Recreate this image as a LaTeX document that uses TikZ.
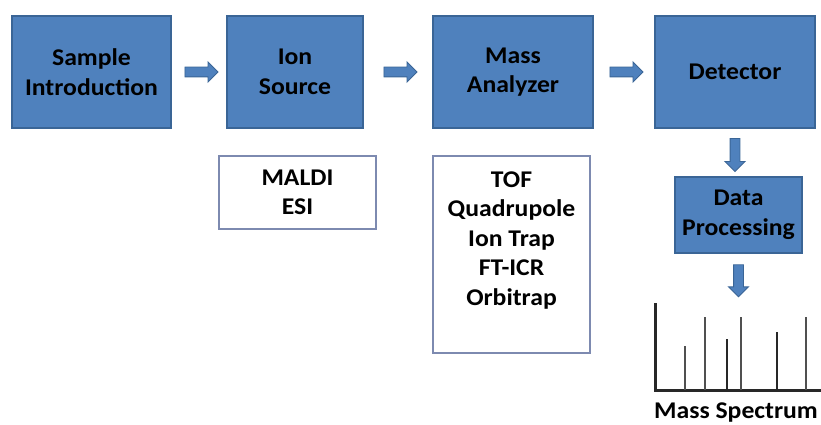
\documentclass[tikz,border=0pt]{standalone}
\usepackage{fontspec}
\setmainfont{Carlito}[FakeStretch=1.07]
\usetikzlibrary{shapes.arrows,calc}
\definecolor{boxfill}{HTML}{4F81BD}
\definecolor{boxline}{HTML}{3A6596}
\definecolor{listline}{RGB}{125,138,176}
\definecolor{axisdark}{RGB}{40,40,40}
\definecolor{peakgray}{RGB}{80,80,80}
\begin{document}
\begin{tikzpicture}[x=1pt,y=-1pt,
  txt/.style={font=\bfseries\fontsize{24}{29.5}\selectfont, align=center},
  stage/.style={txt, draw=boxline, fill=boxfill, line width=1.2pt, inner sep=0pt},
  listbox/.style={draw=listline, fill=white, line width=1.2pt, inner sep=0pt},
  blockarrow/.style={single arrow, draw=boxline, fill=boxfill, line width=0.9pt,
    inner sep=4.5pt, text width=0pt, text height=0pt, text depth=0pt,
    minimum height=33pt, single arrow head extend=5pt},
  peak/.style={line width=2.7pt, peakgray}]
\useasboundingbox (0,0) rectangle (821,425);

% main processing chain
\node[stage, minimum width=159pt, minimum height=112pt] (sample) at (91.5,72) {Sample\\Introduction};
\node[stage, minimum width=136pt, minimum height=112pt] (ion) at (295,72) {Ion\\Source};
\node[stage, minimum width=160pt, minimum height=112pt] (mass) at (513,72) {Mass\\Analyzer};
\node[stage, minimum width=160pt, minimum height=112pt] (det) at (735,72) {Detector};
\node[stage, minimum width=127pt, minimum height=76pt] (data) at (738.5,215) {Data\\Processing};

% examples of each component
\node[listbox, minimum width=157pt, minimum height=73pt] (ionlist) at (297.5,192.5) {};
\node[txt, inner sep=0pt] (iontext) at (ionlist.center) {MALDI\\ESI};
\node[listbox, minimum width=157pt, minimum height=197pt] (masslist) at (511.5,254.5) {};
\node[txt, inner sep=0pt, anchor=north] (masstext) at ($(masslist.north)+(0,16)$)
  {TOF\\Quadrupole\\Ion Trap\\FT-ICR\\Orbitrap};

% spectrum axes
\coordinate (axtop) at (655,303);
\coordinate (axcorner) at (655,390);
\coordinate (axright) at (821,390);
\draw[line width=3pt, axisdark] (axtop) -- (axcorner) -- (axright);

% peaks
\draw[peak] (685,390) -- (685,346);
\draw[peak] (705,390) -- (705,317);
\draw[peak, axisdark] (727,390) -- (727,339);
\draw[peak] (741,390) -- (741,317);
\draw[peak, axisdark] (777,390) -- (777,332);
\draw[peak] (806,390) -- (806,317);

\node[txt, anchor=base, inner sep=0pt] (speclabel) at (736,418) {Mass Spectrum};

% block arrows between stages
\node[blockarrow] (a1) at ($(sample.east)!0.5!(ion.west)$) {};
\node[blockarrow] (a2) at ($(ion.east)!0.5!(mass.west)$) {};
\node[blockarrow] (a3) at ($(mass.east)!0.5!(det.west)$) {};
\node[blockarrow, shape border rotate=270] (a4) at ($(det.south)!0.5!(det.south |- data.north)$) {};
\node[blockarrow, shape border rotate=270, minimum height=32pt] (a5) at ($(data.south)!0.5!(data.south |- axtop)$) {};
\end{tikzpicture}
\end{document}
